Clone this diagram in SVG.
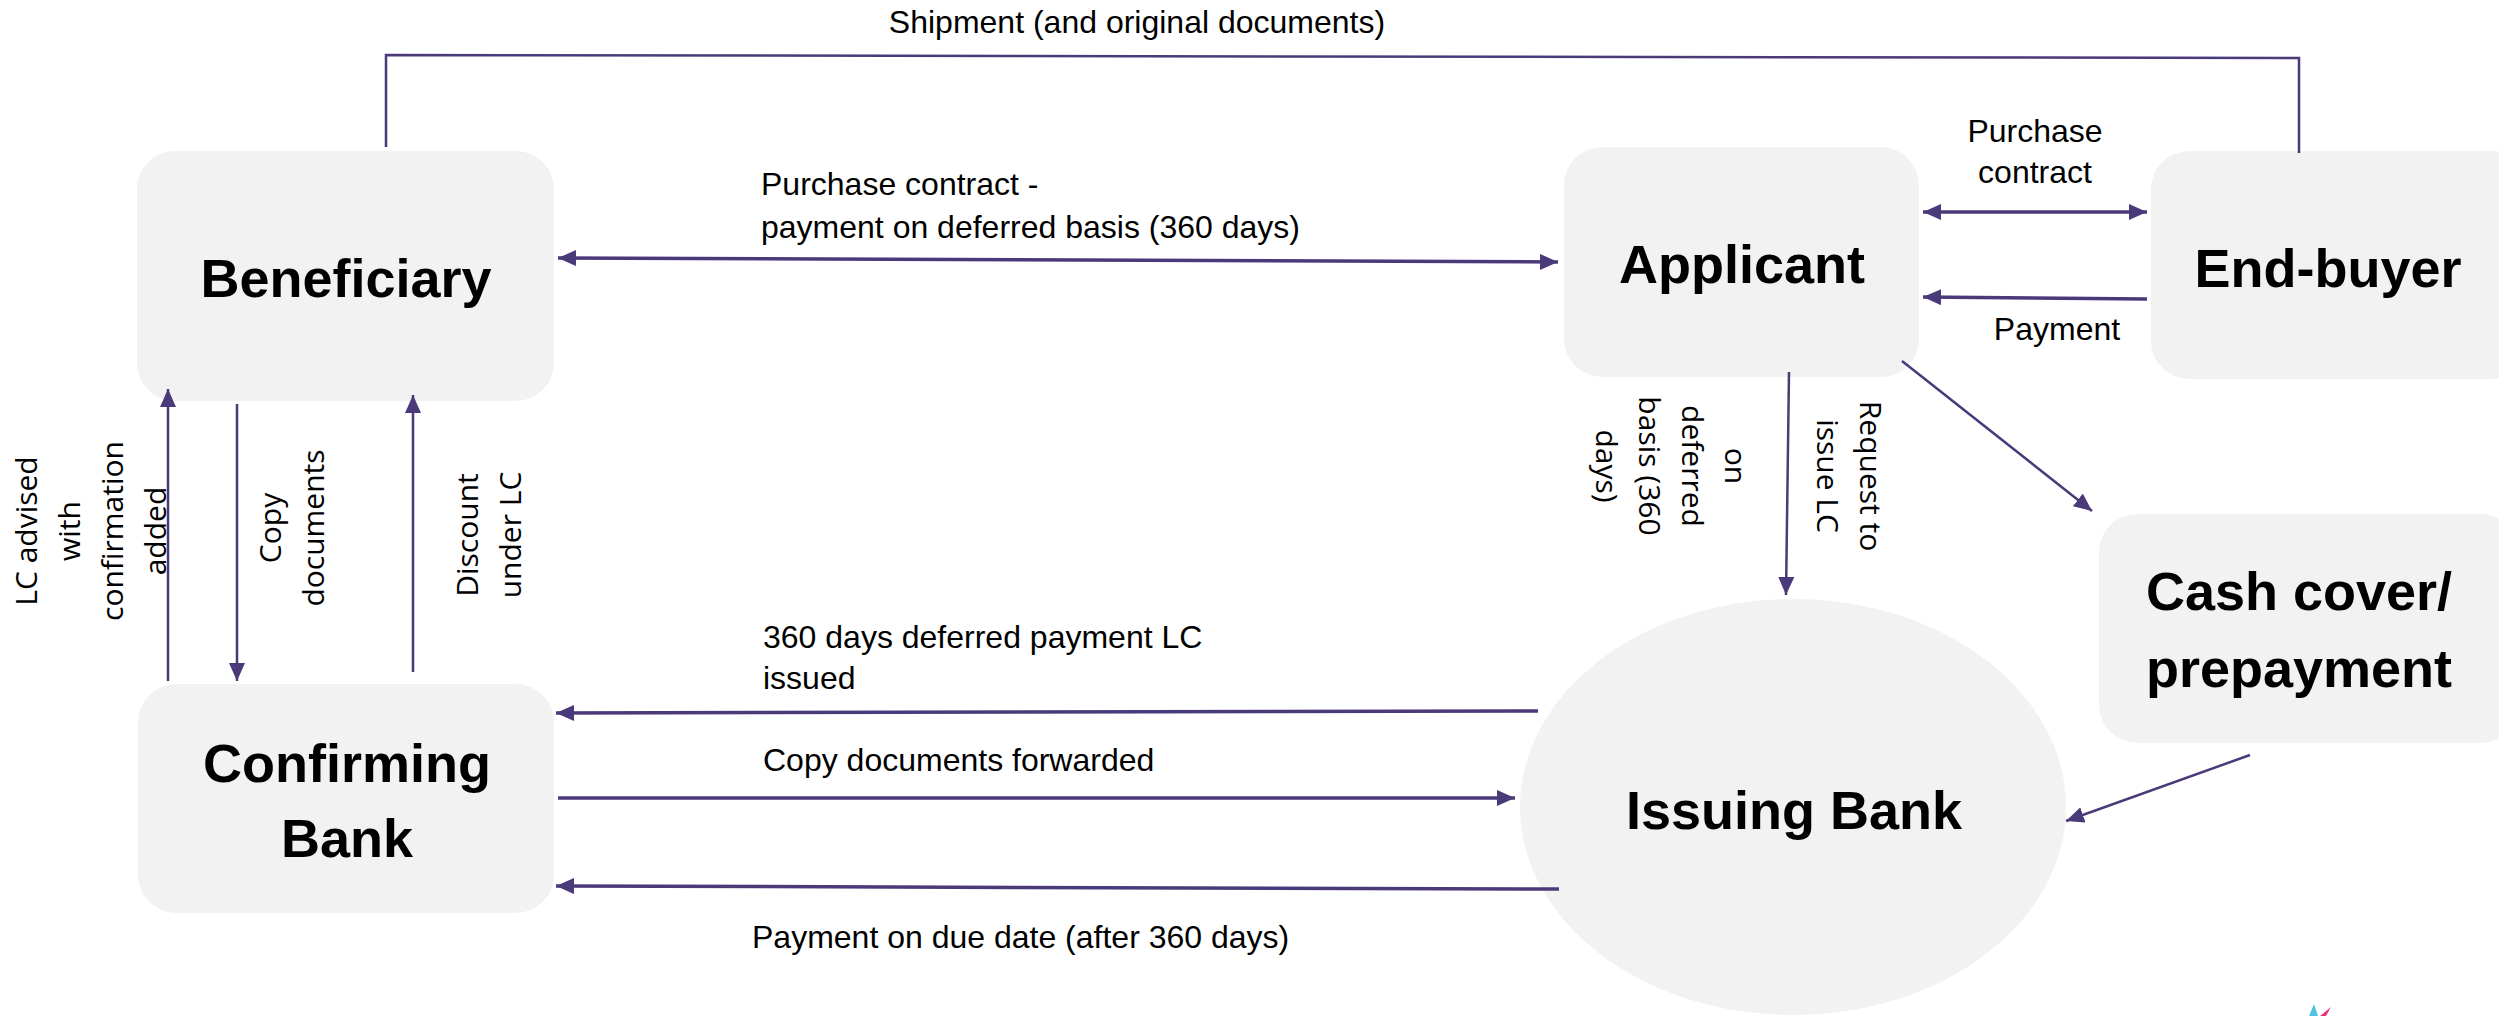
<svg xmlns="http://www.w3.org/2000/svg" width="2499" height="1016" viewBox="0 0 2499 1016">
  <defs>
    <style>
      .box { fill: #f2f2f2; }
      .title { font-family: "Liberation Sans", Arial, sans-serif; font-weight: bold; font-size: 54px; fill: #000; text-anchor: middle; }
      .lbl { font-family: "Liberation Sans", Arial, sans-serif; font-size: 32px; fill: #000; }
      .vlbl { font-family: "Open Sans", "Liberation Sans", sans-serif; font-size: 30px; fill: #000; text-anchor: middle; }
      .flow { fill: none; stroke: #4b3a7a; stroke-width: 3.5; }
      .thin { fill: none; stroke: #4b3a7a; stroke-width: 2.5; }
      .end { marker-end: url(#arrow); }
      .both { marker-start: url(#arrow); marker-end: url(#arrow); }
    </style>
    <marker id="arrow" markerUnits="userSpaceOnUse" markerWidth="20" markerHeight="16" refX="18" refY="8" orient="auto-start-reverse">
      <path d="M0,0 L18,8 L0,16 Z" fill="#4b3a7a"/>
    </marker>
  </defs>

  <!-- parties -->
  <g id="beneficiary">
    <rect class="box" x="137" y="151" width="417" height="250" rx="38"/>
    <text class="title" x="346" y="297">Beneficiary</text>
  </g>
  <g id="applicant">
    <rect class="box" x="1564" y="147" width="355" height="230" rx="38"/>
    <text class="title" x="1742" y="283">Applicant</text>
  </g>
  <g id="end-buyer">
    <rect class="box" x="2151" y="151" width="380" height="228" rx="38"/>
    <text class="title" x="2328" y="287">End-buyer</text>
  </g>
  <g id="confirming-bank">
    <rect class="box" x="138" y="684" width="416" height="229" rx="38"/>
    <text class="title" x="347" y="782">Confirming</text>
    <text class="title" x="347" y="857">Bank</text>
  </g>
  <g id="issuing-bank">
    <ellipse class="box" cx="1793" cy="807" rx="273" ry="208"/>
    <text class="title" x="1794" y="829">Issuing Bank</text>
  </g>
  <g id="cash-cover">
    <rect class="box" x="2099" y="514" width="420" height="229" rx="38"/>
    <text class="title" x="2299" y="610">Cash cover/</text>
    <text class="title" x="2299" y="687">prepayment</text>
  </g>

  <!-- connectors -->
  <g id="connectors">
    <polyline class="thin" points="386,147 386,55 2299,58 2299,153"/>
    <line class="flow both" x1="558" y1="258" x2="1558" y2="262"/>
    <line class="flow both" x1="1923" y1="212" x2="2147" y2="212"/>
    <line class="flow end" x1="2147" y1="299" x2="1923" y2="297"/>
    <line class="thin end" x1="1789" y1="372" x2="1786" y2="595"/>
    <line class="thin end" x1="1902" y1="361" x2="2092" y2="511"/>
    <line class="thin end" x1="2250" y1="755" x2="2066" y2="821"/>
    <line class="flow end" x1="1538" y1="711" x2="556" y2="713"/>
    <line class="flow end" x1="558" y1="798" x2="1515" y2="798"/>
    <line class="flow end" x1="1559" y1="889" x2="556" y2="886"/>
    <line class="thin end" x1="168" y1="681" x2="168" y2="389"/>
    <line class="thin end" x1="237" y1="404" x2="237" y2="681"/>
    <line class="thin end" x1="413" y1="672" x2="413" y2="395"/>
  </g>

  <!-- connector labels -->
  <g id="labels">
    <text class="lbl" x="1137" y="33" text-anchor="middle">Shipment (and original documents)</text>
    <text class="lbl" x="761" y="195">Purchase contract -</text>
    <text class="lbl" x="761" y="238">payment on deferred basis (360 days)</text>
    <text class="lbl" x="2035" y="142" text-anchor="middle">Purchase</text>
    <text class="lbl" x="2035" y="183" text-anchor="middle">contract</text>
    <text class="lbl" x="2057" y="340" text-anchor="middle">Payment</text>
    <text class="lbl" x="763" y="648">360 days deferred payment LC</text>
    <text class="lbl" x="763" y="689">issued</text>
    <text class="lbl" x="763" y="771">Copy documents forwarded</text>
    <text class="lbl" x="752" y="948">Payment on due date (after 360 days)</text>

    <g transform="translate(0,531) rotate(-90)">
      <text class="vlbl" x="0" y="37">LC advised</text>
      <text class="vlbl" x="0" y="80">with</text>
      <text class="vlbl" x="0" y="123">confirmation</text>
      <text class="vlbl" x="0" y="166">added</text>
    </g>
    <g transform="translate(0,528) rotate(-90)">
      <text class="vlbl" x="0" y="281">Copy</text>
      <text class="vlbl" x="0" y="324">documents</text>
    </g>
    <g transform="translate(0,535) rotate(-90)">
      <text class="vlbl" x="0" y="478">Discount</text>
      <text class="vlbl" x="0" y="521">under LC</text>
    </g>
    <g transform="translate(1860,476) rotate(90)">
      <text class="vlbl" x="0" y="0">Request to</text>
      <text class="vlbl" x="0" y="43">issue LC</text>
    </g>
    <g transform="translate(1725,466) rotate(90)">
      <text class="vlbl" x="0" y="0">on</text>
      <text class="vlbl" x="0" y="43">deferred</text>
      <text class="vlbl" x="0" y="86">basis (360</text>
      <text class="vlbl" x="0" y="129">days)</text>
    </g>
  </g>

  <!-- corner mark -->
  <polygon points="2314,1004 2318,1016 2309,1016" fill="#4fc3e6"/>
  <polygon points="2331,1007 2326,1016 2320,1016" fill="#e8347a"/>
</svg>
